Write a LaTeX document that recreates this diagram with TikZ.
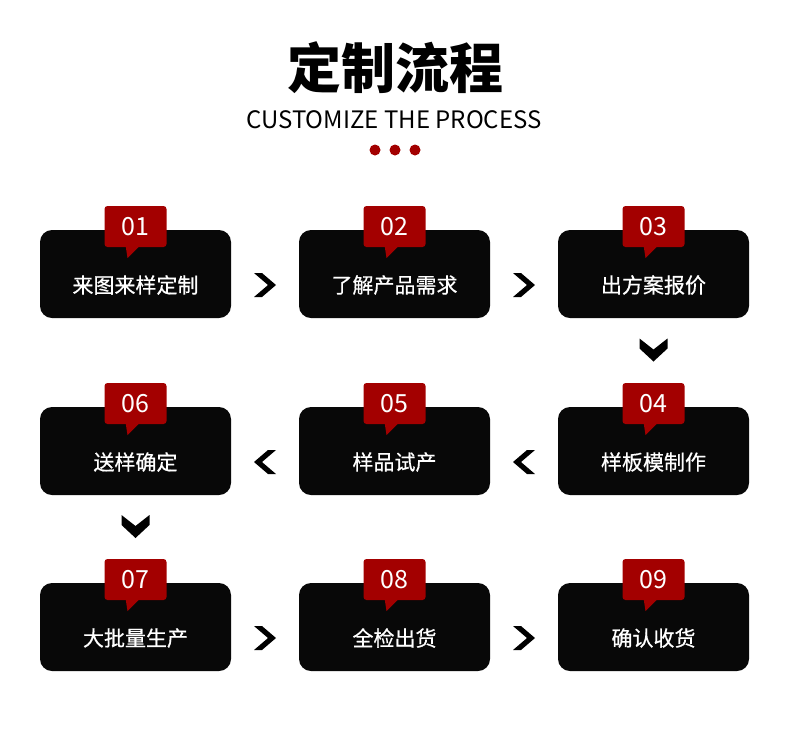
\documentclass[tikz,border=0pt]{standalone}
\usepackage{fontspec}
\setmainfont{Noto Sans CJK SC}
\newfontfamily\cjkmed[FakeBold=0.6]{Noto Sans CJK SC}
\usetikzlibrary{calc}

\definecolor{tagred}{HTML}{A30000}
\definecolor{boxblack}{HTML}{080808}

\tikzset{
  stepbox/.style={fill=boxblack, rounded corners=12pt, minimum width=191pt,
    minimum height=88pt, inner sep=0pt},
  numtag/.style={fill=tagred, rounded corners=3pt, minimum width=62pt,
    minimum height=41pt, inner sep=0pt, text=white,
    font=\fontsize{25}{25}\selectfont},
  steptext/.style={text=white, inner sep=0pt, font=\cjkmed\fontsize{21}{21}\selectfont},
  chevron/.style={fill=black},
}

% chevrons drawn round a named coordinate
\newcommand{\rchev}[1]{\fill[chevron] (#1) ++(-11,-12) -- ++(8,0) -- ++(14,12) -- ++(-14,12) -- ++(-8,0) -- ++(14,-12) -- cycle;}
\newcommand{\lchev}[1]{\fill[chevron] (#1) ++(11,-12) -- ++(-8,0) -- ++(-14,12) -- ++(14,12) -- ++(8,0) -- ++(-14,-12) -- cycle;}
\newcommand{\dchev}[1]{\fill[chevron] (#1) ++(-14,-12) -- ++(14,11) -- ++(14,-11) -- ++(0,10) -- ++(-14,13) -- ++(-14,-13) -- cycle;}

\begin{document}
\begin{tikzpicture}[x=1pt,y=-1pt]
  \useasboundingbox (0,0) rectangle (790,748);
  \fill[white] (0,0) rectangle (790,748);

  % heading
  \node[font=\fontsize{54}{54}\selectfont\bfseries] (title) at (395,68) {定制流程};
  \node[font=\fontsize{24}{24}\selectfont] (subtitle) at (394,120) {CUSTOMIZE THE PROCESS};
  \foreach \dx in {-20,0,20} \fill[tagred] (395+\dx,150) circle (5.5pt);

  % steps
  \foreach \n/\x/\y/\txt in {1/135.5/230/来图来样定制, 2/394.5/230/了解产品需求,
      3/653.5/230/出方案报价, 4/653.5/407/样板模制作, 5/394.5/407/样品试产,
      6/135.5/407/送样确定, 7/135.5/583/大批量生产, 8/394.5/583/全检出货,
      9/653.5/583/确认收货} {
    \node[stepbox] (box\n) at (\x,\y+44) {};
    \node[steptext] (label\n) at (\x,\y+55) {\txt};
    \fill[tagred] (\x-10,\y+15) -- (\x-8,\y+28) -- (\x+5,\y+15) -- cycle;
    \node[numtag] (tag\n) at (\x,\y-3.5) {0\n};
  }

  \coordinate (c12) at ($(box1.east)!.5!(box2.west)+(0,11)$);
  \coordinate (c23) at ($(box2.east)!.5!(box3.west)+(0,11)$);
  \coordinate (c34) at ($(box3.south)!.5!(tag4.north)$);
  \coordinate (c45) at ($(box4.west)!.5!(box5.east)+(0,11)$);
  \coordinate (c56) at ($(box5.west)!.5!(box6.east)+(0,11)$);
  \coordinate (c67) at ($(box6.south)!.5!(tag7.north)$);
  \coordinate (c78) at ($(box7.east)!.5!(box8.west)+(0,11)$);
  \coordinate (c89) at ($(box8.east)!.5!(box9.west)+(0,11)$);

  \rchev{c12} \rchev{c23} \dchev{c34}
  \lchev{c45} \lchev{c56} \dchev{c67}
  \rchev{c78} \rchev{c89}
\end{tikzpicture}
\end{document}
